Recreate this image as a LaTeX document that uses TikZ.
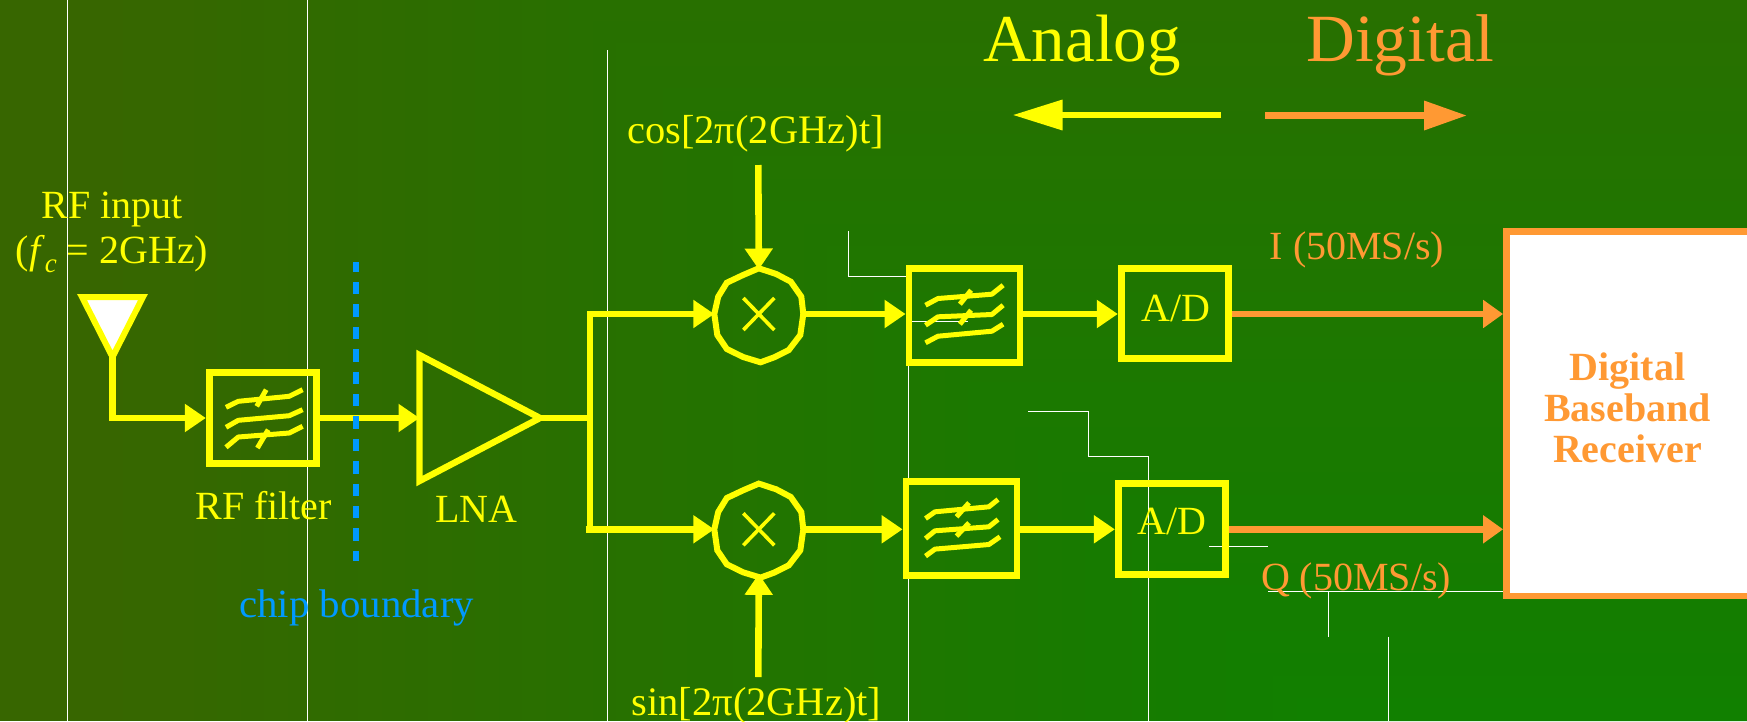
\documentclass[tikz,border=0pt]{standalone}
\usepackage{fontspec}
\setmainfont{Liberation Serif}
\usetikzlibrary{arrows.meta}
\definecolor{yel}{HTML}{FFFF00}
\definecolor{org}{HTML}{FF9933}
\definecolor{blu}{HTML}{0099FF}
\definecolor{bgA}{HTML}{376600}
\definecolor{bgB}{HTML}{108000}
\newcommand{\fsz}[1]{\fontsize{#1}{#1}\selectfont}
\tikzset{
  x=1pt,y=-1pt,
  thin white/.style={draw=white,line width=1pt},
  box/.style={draw=yel,line width=6.8pt,rectangle,inner sep=0pt,anchor=center},
  ghost/.style={rectangle,inner sep=0pt,outer sep=0pt,anchor=center},
  mixer/.style={circle,inner sep=0pt,outer sep=0pt,minimum size=89pt},
  wire/.style={draw=yel,line width=6.6pt},
  owire/.style={draw=org,line width=6.6pt},
  atip/.style={-{Triangle[length=21pt,width=27pt,fill=yel]}},
  otip/.style={-{Triangle[length=20pt,width=27pt,fill=org]}},
  squig/.style={draw=yel,line width=5pt,line join=bevel},
  ytext/.style={text=yel,font=\fsz{40.5},inner sep=0pt,anchor=base},
  otext/.style={text=org,font=\fsz{40},inner sep=0pt,anchor=base},
}
\newcommand{\mixershape}[1]{%
  \draw[draw=yel,line width=6pt,shift={(#1.center)}]
    (0,-45.7)--(17.4,-40)--(32,-32.3)--(42.5,-17.3)--(44.5,0)--(41.5,21)--(30,36)--(15.4,43.3)--(1.7,48.3)--(-15.7,43)--(-32,35)--(-41.5,21)--(-44.5,0)--(-40.6,-17.3)--(-32,-31.3)--(-15.7,-39)--cycle;
  \draw[draw=yel,line width=3.6pt,shift={(#1.center)}] (-15.5,-16)--(15.5,16) (15.5,-16)--(-15.5,16);
}
\begin{document}
\begin{tikzpicture}
\useasboundingbox (0,0) rectangle (1747,721);
\begin{scope}
\clip (0,0) rectangle (1747,721);
\fill[bgA] (0,0) rectangle (1747,721);
\foreach \i in {0,...,52}{
  \pgfmathsetmacro{\tx}{100+\i/52*1220}
  \pgfmathsetmacro{\ty}{\i/52*1175-454}
  \pgfmathsetmacro{\pc}{\i/52*100}
  \fill[bgB!\pc!bgA] (\tx,\ty) rectangle (1747,721);
}
\end{scope}

% thin white rules
\coordinate (w1a) at (67.4,0); \coordinate (w1b) at (67.4,721);
\coordinate (w2a) at (307.3,0); \coordinate (w2b) at (307.3,721);
\coordinate (w3a) at (607.5,50); \coordinate (w3b) at (607.5,721);
\coordinate (w4a) at (908.5,365); \coordinate (w4b) at (908.5,721);
\coordinate (w5a) at (848.8,231); \coordinate (w5b) at (848.8,276.3); \coordinate (w5c) at (906,276.3);
\coordinate (w6a) at (909,321.3); \coordinate (w6b) at (968,321.3);
\coordinate (w7a) at (1028,411.3); \coordinate (w7b) at (1088.4,411.3); \coordinate (w7c) at (1088.4,456); \coordinate (w7d) at (1148.7,456); \coordinate (w7e) at (1148.7,721);
\coordinate (w8a) at (1209,546.3); \coordinate (w8b) at (1268,546.3);
\coordinate (w9a) at (1268,591); \coordinate (w9b) at (1503,591);
\coordinate (w10a) at (1328,591); \coordinate (w10b) at (1328,636.7);
\coordinate (w11a) at (1388,636.7); \coordinate (w11b) at (1388,721);
\draw[thin white] (w1a)--(w1b) (w2a)--(w2b) (w3a)--(w3b) (w4a)--(w4b);
\draw[thin white] (w5a)--(w5b)--(w5c) (w6a)--(w6b);
\draw[thin white] (w7a)--(w7b)--(w7c)--(w7d)--(w7e);
\draw[thin white] (w8a)--(w8b) (w9a)--(w9b) (w10a)--(w10b) (w11a)--(w11b);

% header
\node[ytext,font=\fsz{67}] (analog) at (1082,61) {Analog};
\node[otext,font=\fsz{67.5}] (digital) at (1400,61) {Digital};
\coordinate (aS) at (1221,115); \coordinate (aE) at (1012.5,115);
\coordinate (dS) at (1265,115.5); \coordinate (dE) at (1467,115.5);
\draw[wire,-{Triangle[length=50pt,width=29pt,fill=yel]}] (aS)--(aE);
\draw[owire,-{Triangle[length=43pt,width=28pt,fill=org]}] (dS)--(dE);

% nodes
\node[ghost,minimum width=61pt,minimum height=60pt] (ant) at (112.5,327) {};
\draw[draw=yel,fill=white,line width=6pt] (ant.north west)--(ant.north east)--(ant.south)--cycle;
\node[ytext,font=\fsz{40},anchor=center,align=center] (rfin) at (112,232.5) {RF input\\[5pt](\textit{f}\raisebox{-0.22em}{\fsz{27}\textit{c}} = 2GHz)};

\node[box,minimum width=107.5pt,minimum height=90.7pt] (f1) at (263,418) {};
\node[ghost,minimum width=120.5pt,minimum height=126pt] (lna) at (479.75,418) {};
\draw[draw=yel,line width=6.4pt] (lna.north west)--(lna.east)--(lna.south west)--cycle;
\node[mixer] (m1) at (758.8,314) {};
\node[mixer] (m2) at (758.8,529.3) {};
\node[box,minimum width=111pt,minimum height=94pt] (f2) at (964.5,315.5) {};
\node[box,minimum width=111pt,minimum height=94pt] (f3) at (961.5,528.8) {};
\node[box,minimum width=107.5pt,minimum height=90pt] (ad1) at (1175,313.4) {};
\node[box,minimum width=107.5pt,minimum height=91pt] (ad2) at (1172,528.8) {};
\node[draw=org,fill=white,line width=6.8pt,rectangle,inner sep=0pt,minimum width=260pt,minimum height=364.5pt] (rx) at (1636.5,413.75) {};
\mixershape{m1}
\mixershape{m2}

% filter marks
\begin{scope}[shift={(f1.center)}]
\draw[squig] (-37,-10.7)--(-24.7,-16.7)--(26.2,-21.7)--(39.6,-28.3);
\draw[squig] (-37,9.3)--(-24.7,2.3)--(26.2,-2.3)--(39.6,-8.3);
\draw[squig] (-37,29.3)--(-24.7,19)--(26.2,15)--(39.6,8.3);
\draw[squig] (3.2,-28.3)--(-6.3,-11.7) (5.2,11.7)--(-5.6,30);
\end{scope}
\begin{scope}[shift={(f2.center)}]
\draw[squig] (-39,-10.3)--(-26.5,-17)--(27.4,-21.3)--(38.6,-30.3);
\draw[squig] (-39,9.7)--(-26.5,1.3)--(27.4,-1)--(38.6,-10.3);
\draw[squig] (-39,27.3)--(-26.5,20.7)--(27.4,15.7)--(38.6,8.7);
\draw[squig] (6.6,-25.3)--(-4.6,-11.3) (6.6,-5.3)--(-4.6,8.7);
\end{scope}
\begin{scope}[shift={(f3.center)}]
\draw[squig] (-36,-10.3)--(-26.5,-17)--(27.4,-22)--(36.5,-29.3);
\draw[squig] (-36,9.7)--(-26.5,2)--(27.4,-2)--(36.5,-9.3);
\draw[squig] (-36,27.3)--(-26.5,20.3)--(27.4,15.7)--(38.5,8);
\draw[squig] (7.5,-26)--(-5,-12) (7.5,-6)--(-5,7.3);
\end{scope}

% connectors
\draw[wire,atip] (ant.south) |- (f1.west);
\draw[wire,atip] (f1.east) -- (lna.west);
\coordinate (bus) at (590,418);
\coordinate (busT) at (590,314);
\coordinate (busB) at (590,529.3);
\coordinate (stub) at (585.5,529.3);
\coordinate (cosS) at (758.3,165);
\coordinate (sinS) at (758.3,677);
\draw[wire] (lna.east)--(bus);
\draw[wire,atip] (busB)--(busT)--(m1.west);
\draw[wire,atip] (stub)--(m2.west);
\draw[wire,atip] (cosS)--(m1.north);
\draw[wire,atip] (sinS)--(m2.south);
\draw[wire,atip] (m1.east)--(f2.west |- m1.east);
\draw[wire,atip] (m2.east)--(f3.west |- m2.east);
\draw[wire,atip] (f2.east |- m1.east)--(ad1.west |- m1.east);
\draw[wire,atip] (f3.east |- m2.east)--(ad2.west |- m2.east);
\draw[owire,otip] (ad1.east |- m1.east)--(rx.west |- m1.east);
\draw[owire,otip] (ad2.east |- m2.east)--(rx.west |- m2.east);

% chip boundary
\coordinate (cbT) at (356,262); \coordinate (cbB) at (356,564);
\draw[draw=blu,line width=5.5pt,dash pattern=on 10pt off 10pt on 12.4pt off 10pt on 12.4pt off 10pt on 12.4pt off 10pt on 12.4pt off 10pt on 12.4pt off 10pt on 12.4pt off 10pt on 12.4pt off 10pt on 12.4pt off 10pt on 12.4pt off 10pt on 12.4pt off 10pt on 12.4pt off 10pt on 12.4pt off 10pt] (cbT)--(cbB);

% labels
\node[ytext,font=\fsz{40}] (rff) at (263.7,519.3) {RF filter};
\node[ytext,font=\fsz{40}] (lnat) at (476.5,522.7) {LNA};
\node[ytext] (cos) at (755.5,143.6) {cos[2π(2GHz)t]};
\node[ytext] (sin) at (756.5,715) {sin[2π(2GHz)t]};
\node[ytext,font=\fsz{40}] (adt1) at (1176,321.7) {A/D};
\node[ytext,font=\fsz{40}] (adt2) at (1172,534) {A/D};
\node[otext] (itxt) at (1357,259) {I (50MS/s)};
\node[otext] (qtxt) at (1356,590) {Q (50MS/s)};
\node[text=org,font=\fsz{40}\bfseries,inner sep=0pt,align=center,anchor=center] (rxt) at (1627.4,408) {Digital\\[1pt]Baseband\\[1pt]Receiver};
\node[text=blu,font=\fsz{40},inner sep=0pt,anchor=base,xscale=1.02,transform shape] (cb) at (356.7,617) {chip boundary};
\end{tikzpicture}
\end{document}
